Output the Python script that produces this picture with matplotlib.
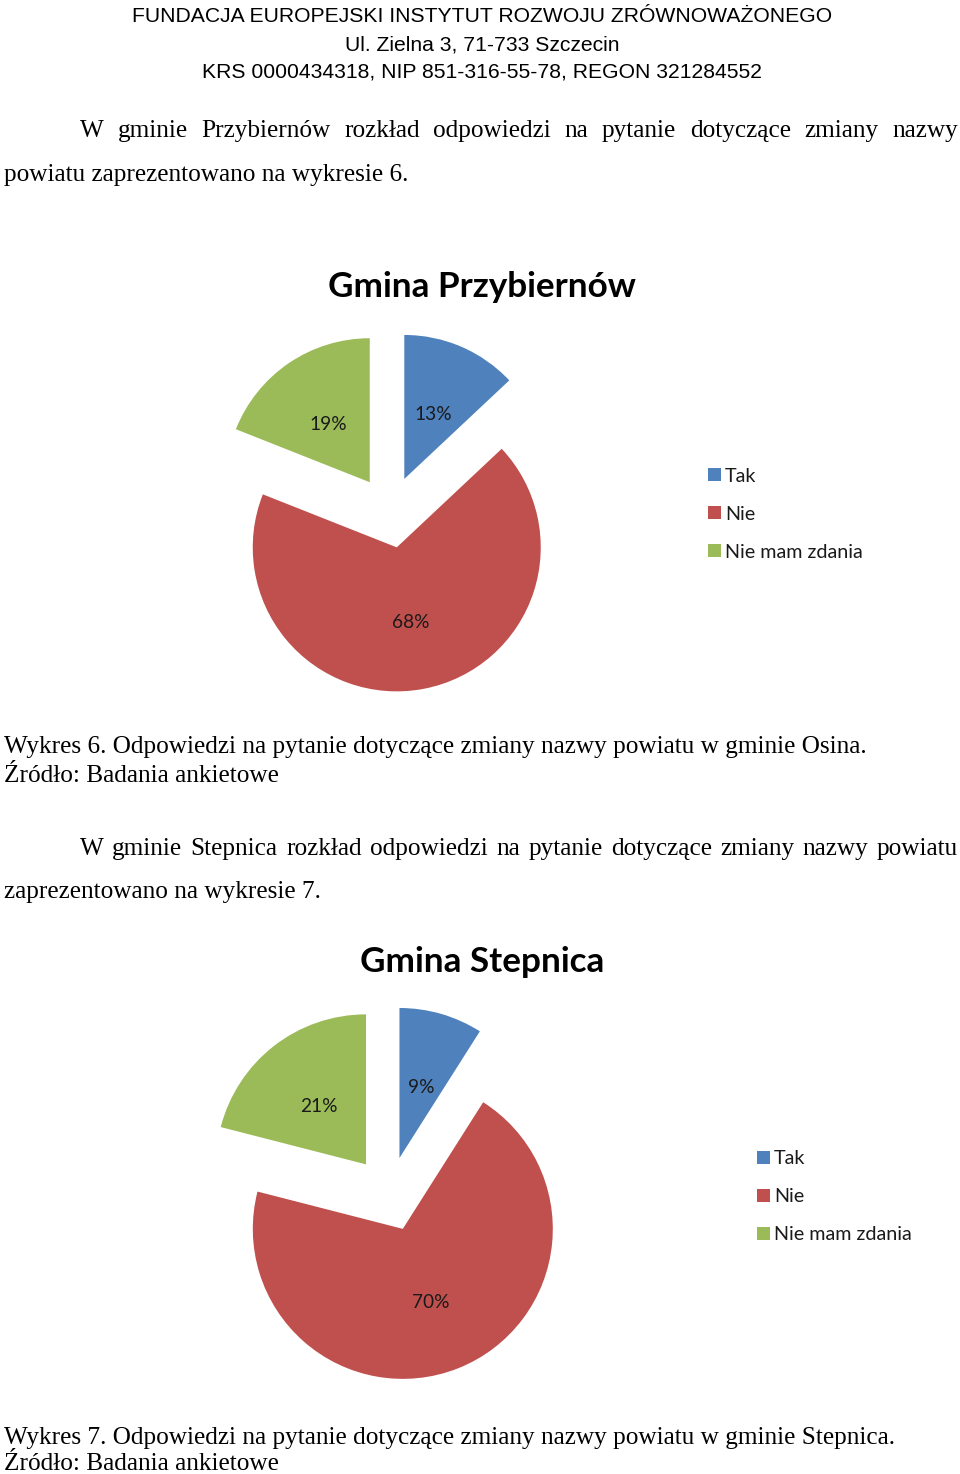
import matplotlib
matplotlib.use('Agg')
import matplotlib.pyplot as plt
from matplotlib.patches import Rectangle

# ---------------- data ----------------
categories = ['Tak', 'Nie', 'Nie mam zdania']
przybiernow_values = [13, 68, 19]
stepnica_values = [9, 70, 21]
colors = ['#4F81BD', '#C0504D', '#9BBB59']

header_lines = ['FUNDACJA EUROPEJSKI INSTYTUT ROZWOJU ZRÓWNOWAŻONEGO',
                'Ul. Zielna 3, 71-733 Szczecin',
                'KRS 0000434318, NIP 851-316-55-78, REGON 321284552']
para1 = ['W gminie Przybiernów rozkład odpowiedzi na pytanie dotyczące zmiany nazwy',
         'powiatu zaprezentowano na wykresie 6.']
title1 = 'Gmina Przybiernów'
caption1 = ['Wykres 6. Odpowiedzi na pytanie dotyczące zmiany nazwy powiatu w gminie Osina.',
            'Źródło: Badania ankietowe']
para2 = ['W gminie Stepnica rozkład odpowiedzi na pytanie dotyczące zmiany nazwy powiatu',
         'zaprezentowano na wykresie 7.']
title2 = 'Gmina Stepnica'
caption2 = ['Wykres 7. Odpowiedzi na pytanie dotyczące zmiany nazwy powiatu w gminie Stepnica.',
            'Źródło: Badania ankietowe']

# ---------------- layout helpers ----------------
W, H = 960, 1474
fig = plt.figure(figsize=(W / 100, H / 100), dpi=100)
fig.patch.set_facecolor('white')
renderer = fig.canvas.get_renderer()

SANS_NARROW = ['Liberation Sans Narrow', 'Liberation Sans', 'DejaVu Sans']
SERIF = ['Liberation Serif', 'DejaVu Serif']
CHART = ['Lato', 'Open Sans', 'DejaVu Sans']
DY = 2  # small vertical nudge


def fx(x):
    return x / W


def fy(y):
    return 1 - (y + DY) / H


def text_px(x, y, s, **kw):
    kw.setdefault('va', 'center')
    return fig.text(fx(x), fy(y), s, **kw)


def fit_width(t, width):
    bb = t.get_window_extent(renderer)
    t.set_fontsize(t.get_fontsize() * width / bb.width)
    return t


def justify(x0, x1, y, line, size, **kw):
    words = line.split(' ')
    ts = [text_px(x0, y, w, fontsize=size, ha='left', **kw) for w in words]
    widths = [t.get_window_extent(renderer).width for t in ts]
    gap = (x1 - x0 - sum(widths)) / (len(words) - 1)
    x = x0
    for t, w in zip(ts, widths):
        t.set_x(fx(x))
        x += w + gap


# ---------------- header ----------------
h0 = text_px(482, 14, header_lines[0], ha='center', fontsize=14, family=SANS_NARROW)
fit_width(h0, 700)
hs = h0.get_fontsize()
text_px(482, 43, header_lines[1], ha='center', fontsize=hs, family=SANS_NARROW)
text_px(482, 70, header_lines[2], ha='center', fontsize=hs, family=SANS_NARROW)

# body font size fitted to caption width
c1 = text_px(4, 745, caption1[0], ha='left', fontsize=16, family=SERIF)
fit_width(c1, 866)
bs = c1.get_fontsize()
text_px(4, 774, caption1[1], ha='left', fontsize=bs, family=SERIF)

justify(80, 958, 129, para1[0], bs, family=SERIF)
text_px(4, 173, para1[1], ha='left', fontsize=bs, family=SERIF)

justify(80, 958, 847, para2[0], bs, family=SERIF)
text_px(4, 890, para2[1], ha='left', fontsize=bs, family=SERIF)

text_px(4, 1436, caption2[0], ha='left', fontsize=bs, family=SERIF)
text_px(4, 1462, caption2[1], ha='left', fontsize=bs, family=SERIF)

# titles
t1 = text_px(482, 285, title1, ha='center', fontsize=24, fontweight='bold', family=CHART)
fit_width(t1, 308)
ts_ = t1.get_fontsize()
text_px(482, 960, title2, ha='center', fontsize=ts_, fontweight='bold', family=CHART)


# ---------------- pies ----------------
def pie_at(cx, cy, r, values, legend_x, legend_y0):
    S = 240
    ax = fig.add_axes([fx(cx - S), 1 - (cy + S) / H, 2 * S / W, 2 * S / H])
    wedges, _, autotexts = ax.pie(values, colors=colors, startangle=90, counterclock=False,
                                  explode=[0.25] * len(values), radius=1,
                                  autopct=lambda p: f'{p:.0f}%', pctdistance=0.51,
                                  wedgeprops=dict(linewidth=0),
                                  textprops=dict(fontsize=13.8, family=CHART, color='#1a1a1a'))
    for at in autotexts:
        px, py = at.get_position()
        at.set_position((px, py - 3 / r))
    ax.set_xlim(-S / r, S / r)
    ax.set_ylim(-S / r, S / r)
    ax.set_aspect('equal')
    ax.axis('off')
    # legend
    for i, (cat, col) in enumerate(zip(categories, colors)):
        yy = legend_y0 + 38 * i
        fig.add_artist(Rectangle((fx(legend_x), 1 - (yy + 6.5) / H), 13 / W, 13 / H,
                                 transform=fig.transFigure, facecolor=col, edgecolor='none'))
        text_px(legend_x + 17, yy, cat, ha='left', fontsize=14.2, family=CHART, color='#1a1a1a')


pie_at(390, 512, 144, przybiernow_values, 708, 474)
pie_at(389, 1194, 150, stepnica_values, 757, 1157)

fig.savefig('out.png', dpi=100, facecolor='white')
